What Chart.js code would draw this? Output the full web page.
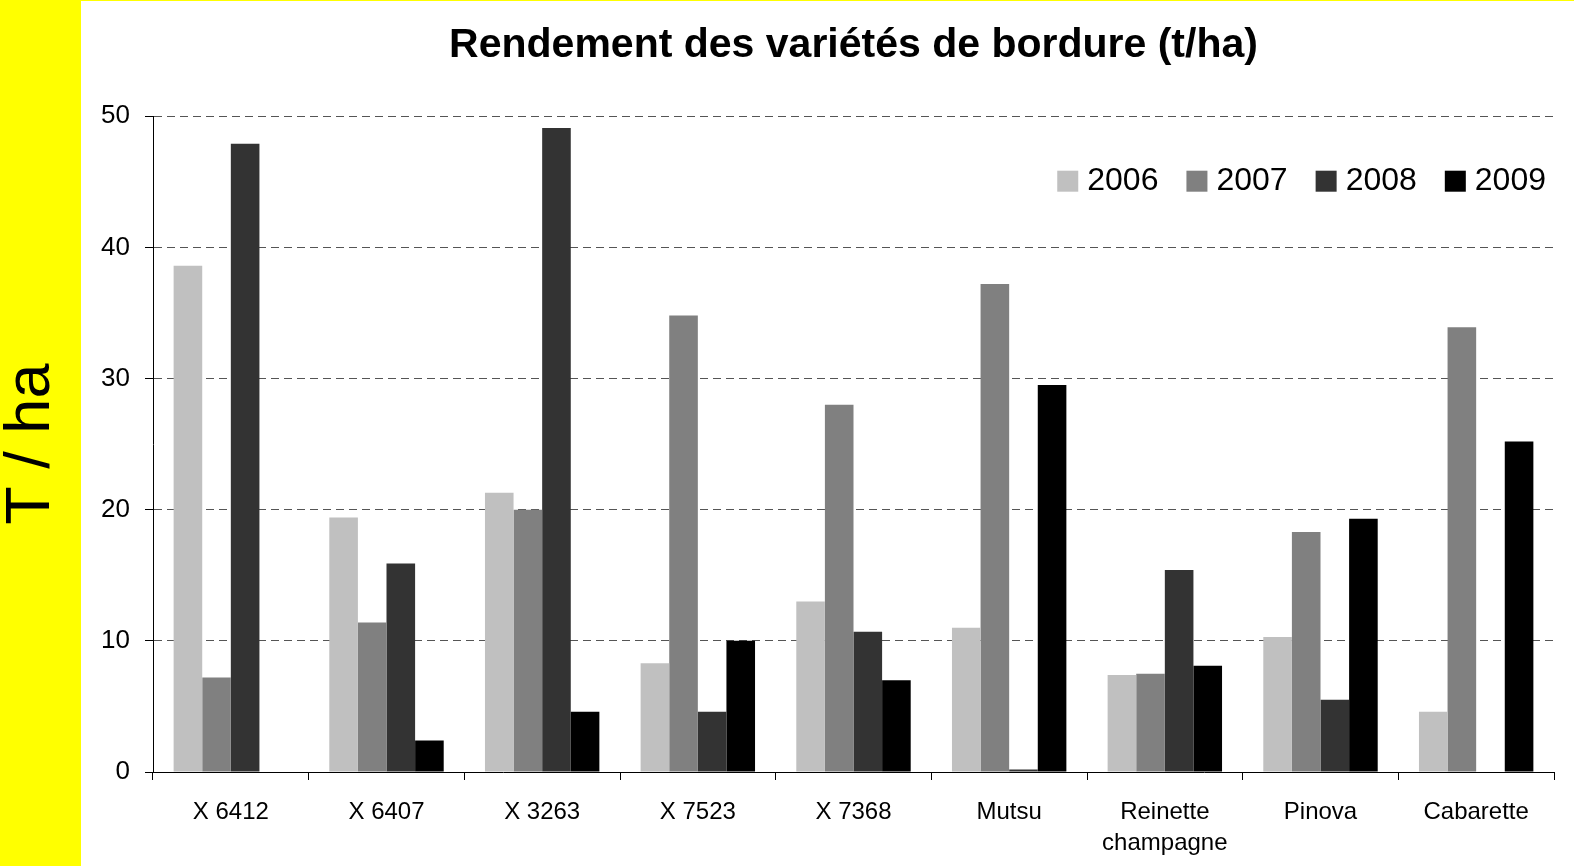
<!DOCTYPE html>
<html>
<head>
<meta charset="utf-8">
<script src="https://cdn.jsdelivr.net/npm/chart.js@4"></script>
<style>
  html, body { margin: 0; padding: 0; background: #fff; }
  canvas { display: block; }
</style>
</head>
<body>
<canvas id="yieldChart" width="1574" height="866"></canvas>
<script>
const categories = ['X 6412', 'X 6407', 'X 3263', 'X 7523', 'X 7368', 'Mutsu', ['Reinette', 'champagne'], 'Pinova', 'Cabarette'];
const years = ['2006', '2007', '2008', '2009'];
const v2006 = [38.6, 19.4, 21.3, 8.3, 13.0, 11.0, 7.4, 10.3, 4.6];
const v2007 = [7.2, 11.4, 20.0, 34.8, 28.0, 37.2, 7.5, 18.3, 33.9];
const v2008 = [47.9, 15.9, 49.1, 4.6, 10.7, 0.2, 15.4, 5.5, null];
const v2009 = [null, 2.4, 4.6, 10.0, 7.0, 29.5, 8.1, 19.3, 25.2];
const yMax = 50;
const yStep = 10;

const colors = ['#c0c0c0', '#808080', '#333333', '#000000'];
const series = [v2006, v2007, v2008, v2009];
const font = "'Liberation Sans', Arial, sans-serif";

// white page with the yellow band on the left and a thin line on top
const background = {
    id: 'background',
    beforeDraw(chart) {
        const c = chart.ctx;
        c.save();
        c.fillStyle = '#ffffff';
        c.fillRect(0, 0, chart.width, chart.height);
        c.fillStyle = '#ffff00';
        c.fillRect(0, 0, 81, chart.height);
        c.fillRect(0, 0, chart.width, 1);
        c.restore();
    }
};

// one-row legend drawn inside the plot, top right
const insideLegend = {
    id: 'insideLegend',
    afterDatasetsDraw(chart) {
        const c = chart.ctx;
        const area = chart.chartArea;
        const box = 21, gap = 9, spacing = 28;
        c.save();
        c.font = '32px ' + font;
        c.textBaseline = 'middle';
        c.textAlign = 'left';
        const items = chart.data.datasets.map(ds => ({
            text: ds.label, color: ds.backgroundColor, w: box + gap + c.measureText(ds.label).width
        }));
        const total = items.reduce((s, it) => s + it.w, 0) + spacing * (items.length - 1);
        let x = area.right - 8 - total;
        const cy = area.top + 65;
        items.forEach(it => {
            c.fillStyle = it.color;
            c.fillRect(x, cy - box / 2, box, box);
            c.fillStyle = '#000';
            c.fillText(it.text, x + box + gap, cy);
            x += it.w + spacing;
        });
        c.restore();
    }
};

new Chart(document.getElementById('yieldChart'), {
    type: 'bar',
    data: {
        labels: categories,
        datasets: years.map((y, i) => ({
            label: y,
            data: series[i],
            backgroundColor: colors[i],
            borderWidth: 0,
            categoryPercentage: 0.735,
            barPercentage: 1
        }))
    },
    options: {
        responsive: false,
        animation: false,
        layout: { padding: { left: 0, right: 20, top: 0, bottom: 0 } },
        scales: {
            x: {
                offset: true,
                grid: {
                    offset: true,
                    drawOnChartArea: false,
                    drawTicks: true,
                    tickLength: 8,
                    tickColor: '#000'
                },
                border: { color: '#000', width: 1 },
                ticks: {
                    color: '#000',
                    padding: 17,
                    maxRotation: 0,
                    font: { family: font, size: 24, lineHeight: 1.3 }
                },
                afterFit(scale) { scale.height = 94; }
            },
            y: {
                min: 0,
                max: yMax,
                grid: {
                    color: ctx => ctx.tick && ctx.tick.value === 0 ? 'rgba(0,0,0,0)' : '#555',
                    lineWidth: 1,
                    tickColor: '#000',
                    tickBorderDash: [],
                    tickLength: 8
                },
                border: { color: '#000', width: 1, dash: [8, 5] },
                ticks: {
                    stepSize: yStep,
                    color: '#000',
                    padding: 15,
                    font: { family: font, size: 26 }
                },
                title: {
                    display: true,
                    text: 'T / ha',
                    color: '#000',
                    padding: { top: 0, bottom: 0 },
                    font: { family: font, size: 63, lineHeight: 1 }
                },
                afterFit(scale) { scale.width = 153; }
            }
        },
        plugins: {
            title: {
                display: true,
                fullSize: false,
                text: 'Rendement des variétés de bordure (t/ha)',
                color: '#000',
                padding: { top: 21, bottom: 46 },
                font: { family: font, size: 41, weight: 'bold', lineHeight: 1.2 }
            },
            legend: { display: false },
            tooltip: { enabled: false }
        }
    },
    plugins: [background, insideLegend]
});
</script>
</body>
</html>
